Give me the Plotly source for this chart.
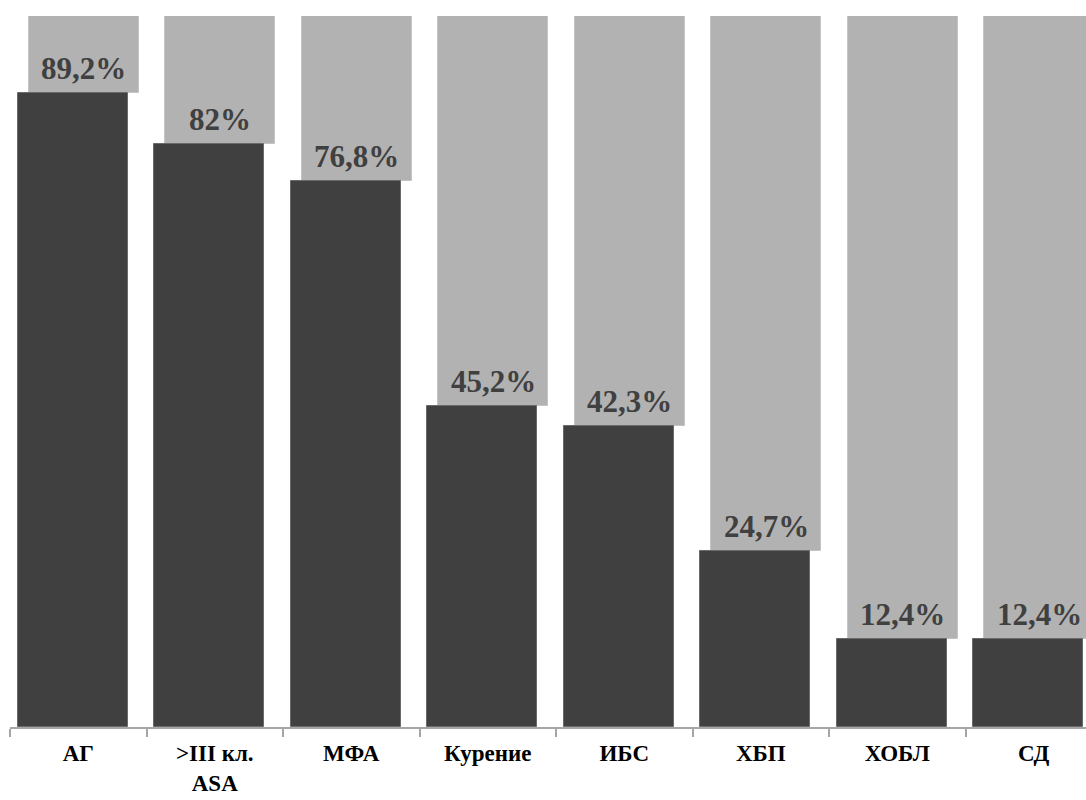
import plotly.graph_objects as go

# Prevalence of comorbid conditions, percent of patients
categories = ["АГ", ">III кл.<br>ASA", "МФА", "Курение", "ИБС", "ХБП", "ХОБЛ", "СД"]
values = [89.2, 82, 76.8, 45.2, 42.3, 24.7, 12.4, 12.4]
labels = ["89,2%", "82%", "76,8%", "45,2%", "42,3%", "24,7%", "12,4%", "12,4%"]

remainder = [100 - v for v in values]
idx = list(range(len(categories)))
boundaries = [i - 0.5 for i in range(len(categories) + 1)]

DARK = "#404040"
LIGHT = "#b2b2b2"
SERIF = "Liberation Serif, Times New Roman, serif"
BAR_W = 0.806
SHIFT = 0.04  # light bars sit slightly to the right of the dark ones

fig = go.Figure()

# Remainder up to 100% (light), drawn first so the dark bar overlaps it
fig.add_trace(go.Bar(
    x=idx, y=remainder, base=values,
    width=BAR_W, offset=-BAR_W / 2 + SHIFT,
    marker=dict(color=LIGHT, line=dict(color="#c4c4c4", width=1)),
    hoverinfo="skip", showlegend=False,
))

# Share of patients with the condition (dark)
fig.add_trace(go.Bar(
    x=idx, y=values,
    width=BAR_W, offset=-BAR_W / 2 - SHIFT,
    marker=dict(color=DARK, line=dict(color="#6a6a6a", width=1)),
    showlegend=False,
))

for i, (v, t) in enumerate(zip(values, labels)):
    fig.add_annotation(
        x=i + SHIFT, y=v, text=t,
        showarrow=False, yanchor="bottom", xanchor="center", yshift=5,
        font=dict(family=SERIF, size=31, color=DARK, weight="bold"),
    )

fig.update_layout(
    width=1086, height=800,
    margin=dict(l=10, r=0, t=16, b=73),
    paper_bgcolor="white", plot_bgcolor="white",
    barmode="overlay",
    bargap=0,
    xaxis=dict(
        type="linear", automargin=False,
        tickmode="array", tickvals=idx, ticktext=categories,
        range=[-0.5, -0.5 + 1076 / 136.5],
        showgrid=False, zeroline=False,
        showline=True, linecolor="#a6a6a6", linewidth=1.5,
        ticks="", ticklabelstandoff=5,
        tickfont=dict(family=SERIF, size=23, color="black", weight="bold"),
        minor=dict(
            tickmode="array", tickvals=boundaries,
            ticks="outside", ticklen=8, tickcolor="#a6a6a6", tickwidth=1.5,
            showgrid=False,
        ),
    ),
    yaxis=dict(range=[0, 100], visible=False, automargin=False),
)

fig.write_html("out.html")
